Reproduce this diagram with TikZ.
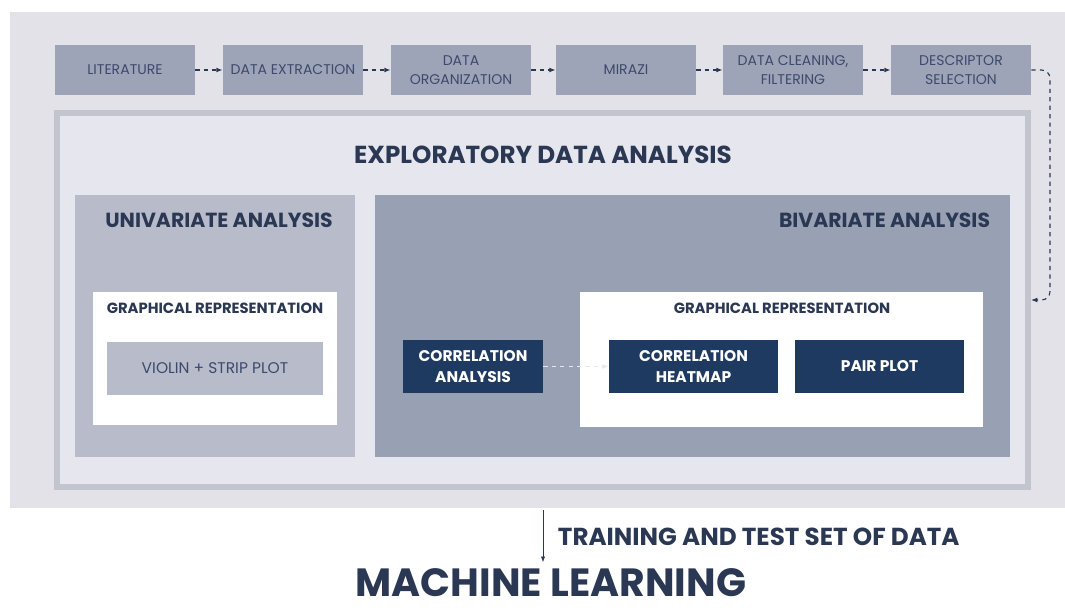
\documentclass[tikz,border=0pt]{standalone}
\usepackage{fontspec}
\setmainfont{Poppins}
\usetikzlibrary{positioning,arrows.meta,fit,calc}
\definecolor{panelgray}{HTML}{E2E2E8}
\definecolor{edafill}{HTML}{E6E6EE}
\definecolor{edaborder}{HTML}{C2C4CE}
\definecolor{stagegray}{HTML}{9EA4B8}
\definecolor{unigray}{HTML}{B8BBC9}
\definecolor{bigray}{HTML}{98A0B3}
\definecolor{navy}{HTML}{1F3A60}
\definecolor{inkdark}{HTML}{2B3853}
\definecolor{inksoft}{HTML}{3D4A6C}
\tikzset{
  stagebox/.style={fill=stagegray, minimum width=3.5cm, minimum height=1.25cm, inner xsep=1pt, align=center, text=inksoft, font=\fontsize{10}{14}\selectfont},
  flowarrow/.style={-{Latex[length=1.6mm]}, thick, dashed, inkdark},
  softarrow/.style={-{Latex[length=1.6mm]}, thick, dashed, white!75!bigray},
  navybox/.style={fill=navy, text=white, minimum height=1.325cm, align=center, font=\bfseries\fontsize{11}{15}\selectfont},
  whitebox/.style={fill=white, inner sep=0pt},
  areatitle/.style={text=inkdark, font=\bfseries\fontsize{14.5}{16}\selectfont},
  graphtitle/.style={text=inkdark, font=\bfseries\fontsize{10.5}{12}\selectfont}
}

\begin{document}
\begin{tikzpicture}[x=0.025cm, y=-0.025cm]
  \useasboundingbox (0,0) rectangle (1065,610);
  % background panels
  \node[fill=panelgray, minimum width=26.375cm, minimum height=12.4cm, inner sep=0pt] (panel) at (537.5,260) {};
  \node[fill=edafill, draw=edaborder, line width=4pt, minimum width=24.275cm, minimum height=9.35cm, inner sep=0pt] (eda) at (542.5,300) {};
  \node[text=inkdark, font=\bfseries\fontsize{17.5}{20}\selectfont] (edatitle) at (543,155) {EXPLORATORY DATA ANALYSIS};

  % pipeline
  \node[stagebox] (lit) at (125,70) {LITERATURE};
  \node[stagebox] (extr) at (293,70) {DATA EXTRACTION};
  \node[stagebox] (org) at (461,70) {DATA\\ORGANIZATION};
  \node[stagebox] (mirazi) at (626,70) {MIRAZI};
  \node[stagebox] (clean) at (793,70) {DATA CLEANING,\\FILTERING};
  \node[stagebox] (desc) at (961,70) {DESCRIPTOR\\SELECTION};
  \draw[flowarrow] (lit) -- (extr);
  \draw[flowarrow] (extr) -- (org);
  \draw[flowarrow] (org) -- (mirazi);
  \draw[flowarrow] (mirazi) -- (clean);
  \draw[flowarrow] (clean) -- (desc);
  \coordinate (bend) at (1050,300);
  \draw[flowarrow, rounded corners=6pt] (desc.east) -| (bend) -- (eda.east);

  % univariate
  \node[fill=unigray, minimum width=7cm, minimum height=6.55cm, inner sep=0pt] (uni) at (215,326) {};
  \node[areatitle] (unititle) at (219,220) {UNIVARIATE ANALYSIS};
  \node[whitebox, minimum width=6.1cm, minimum height=3.325cm] (uniplot) at (215,358.5) {};
  \node[graphtitle] (unigraph) at (215,308) {GRAPHICAL REPRESENTATION};
  \node[fill=unigray, text=inksoft, minimum width=5.4cm, minimum height=1.325cm, font=\fontsize{11}{13}\selectfont] (violin) at (215,368.5) {VIOLIN + STRIP PLOT};

  % bivariate
  \node[fill=bigray, minimum width=15.875cm, minimum height=6.55cm, inner sep=0pt] (bi) at (692.5,326) {};
  \node[areatitle, anchor=east] (bititle) at (995,220) {BIVARIATE ANALYSIS};
  \node[whitebox, minimum width=10.075cm, minimum height=3.375cm] (biplot) at (781.5,359.5) {};
  \node[graphtitle] (bigraph) at (782,308) {GRAPHICAL REPRESENTATION};
  \node[navybox, minimum width=3.5cm] (corr) at (473,366.5) {CORRELATION\\ANALYSIS};
  \node[navybox, minimum width=4.225cm] (heat) at (693.5,366.5) {CORRELATION\\HEATMAP};
  \node[navybox, minimum width=4.225cm] (pair) at (879.5,366.5) {PAIR PLOT};
  \draw[softarrow] (corr) -- (heat);

  % output
  \node[text=inkdark, inner ysep=1pt, anchor=base, font=\bfseries\fontsize{28}{31}\selectfont] (ml) at (551,596) {MACHINE LEARNING};
  \node[text=inkdark, anchor=west, font=\bfseries\fontsize{17.5}{20}\selectfont] (split) at (553,537) {TRAINING AND TEST SET OF DATA};
  \coordinate (tap) at (543,510);
  \draw[-{Latex[length=1.4mm]}, inkdark] (tap) -- ([yshift=3pt]tap |- ml.north);
\end{tikzpicture}
\end{document}
